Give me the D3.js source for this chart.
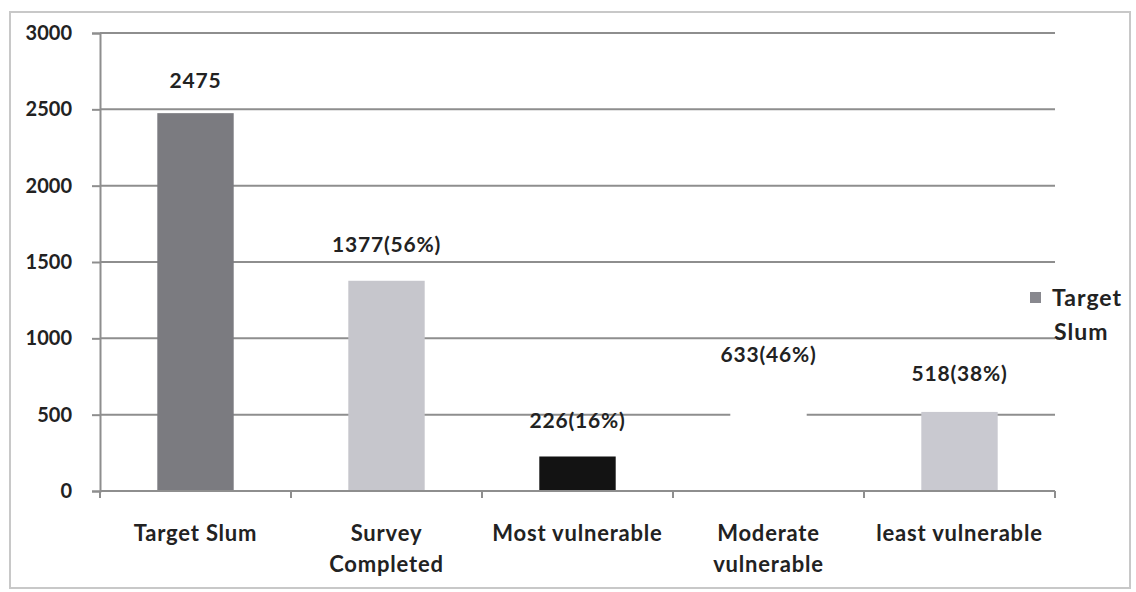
<!DOCTYPE html>
<html>
<head>
<meta charset="utf-8">
<script src="https://cdn.jsdelivr.net/npm/d3@7"></script>
<style>
  html, body { margin: 0; padding: 0; background: #fff; }
  svg text { font-family: Lato, "Open Sans", sans-serif; font-weight: 700; fill: #222; }
</style>
</head>
<body>
<svg id="chart" width="1136" height="592"></svg>
<script>
const categories = [["Target Slum"], ["Survey", "Completed"], ["Most vulnerable"], ["Moderate", "vulnerable"], ["least vulnerable"]];
const values     = [2475, 1377, 226, 633, 518];
const valueLabels = ["2475", "1377(56%)", "226(16%)", "633(46%)", "518(38%)"];
const barColors  = ["#7b7b80", "#c6c6cc", "#131313", "#ffffff", "#c9c9d0"];
const yTicks     = [0, 500, 1000, 1500, 2000, 2500, 3000];
const legendLabel = ["Target", "Slum"];

const svg = d3.select('#chart');

const LEFT = 100, RIGHT = 1055, TOP = 33, BOTTOM = 491;

// outer frame of the scanned chart
svg.append('rect')
    .attr('x', 10).attr('y', 12)
    .attr('width', 1120).attr('height', 576)
    .attr('fill', 'none')
    .attr('stroke', '#c8c8c8')
    .attr('stroke-width', 2);

const x = d3.scaleBand()
    .domain(d3.range(values.length))
    .range([LEFT, RIGHT])
    .paddingInner(0.6)
    .paddingOuter(0.3);

const xOuter = d3.scaleBand()
    .domain(d3.range(values.length))
    .range([LEFT, RIGHT]);

const y = d3.scaleLinear()
    .domain([0, 3000])
    .range([BOTTOM, TOP]);

// gridlines
svg.append('g')
    .selectAll('line')
    .data(yTicks.slice(1))
    .join('line')
    .attr('x1', LEFT).attr('x2', RIGHT)
    .attr('y1', d => y(d)).attr('y2', d => y(d))
    .attr('stroke', '#8e8e8e')
    .attr('stroke-width', 2);

// y axis
const yAxis = svg.append('g')
    .attr('transform', `translate(${LEFT},0)`)
    .call(d3.axisLeft(y).tickValues(yTicks).tickSize(8).tickPadding(20).tickFormat(d3.format('d')));
yAxis.select('.domain').attr('stroke', '#8e8e8e').attr('stroke-width', 2);
yAxis.selectAll('.tick line').attr('stroke', '#8e8e8e').attr('stroke-width', 2);
yAxis.selectAll('.tick text')
    .attr('font-size', 20)
    .style('font-family', 'Lato, sans-serif')
    .style('font-weight', 700)
    .attr('fill', '#222');

// bars
svg.append('g')
    .selectAll('rect')
    .data(values)
    .join('rect')
    .attr('x', (d, i) => x(i))
    .attr('y', d => y(d))
    .attr('width', x.bandwidth())
    .attr('height', d => y(0) - y(d))
    .attr('fill', (d, i) => barColors[i]);

// x axis
svg.append('line')
    .attr('x1', LEFT).attr('x2', RIGHT)
    .attr('y1', y(0)).attr('y2', y(0))
    .attr('stroke', '#8e8e8e')
    .attr('stroke-width', 2);

svg.append('g')
    .selectAll('line')
    .data(d3.range(values.length + 1))
    .join('line')
    .attr('x1', i => LEFT + i * xOuter.step())
    .attr('x2', i => LEFT + i * xOuter.step())
    .attr('y1', y(0)).attr('y2', y(0) + 7)
    .attr('stroke', '#8e8e8e')
    .attr('stroke-width', 2);

// category labels
svg.append('g')
    .selectAll('text')
    .data(categories)
    .join('text')
    .attr('text-anchor', 'middle')
    .attr('font-size', 22)
    .attr('letter-spacing', 0.8)
    .attr('x', (d, i) => xOuter(i) + xOuter.bandwidth() / 2)
    .attr('y', 541)
    .selectAll('tspan')
    .data(d => d)
    .join('tspan')
    .attr('x', function () { return d3.select(this.parentNode).attr('x'); })
    .attr('dy', (d, j) => j === 0 ? 0 : 31)
    .text(d => d);

// value labels
const labelOffset = [25, 29, 28, 32, 31];
svg.append('g')
    .selectAll('text')
    .data(values)
    .join('text')
    .attr('text-anchor', 'middle')
    .attr('font-size', 21)
    .attr('letter-spacing', 0.8)
    .attr('x', (d, i) => x(i) + x.bandwidth() / 2)
    .attr('y', (d, i) => y(d) - labelOffset[i])
    .text((d, i) => valueLabels[i]);

// legend
const legend = svg.append('g').attr('transform', 'translate(1030,292)');
legend.append('rect')
    .attr('width', 11).attr('height', 11)
    .attr('fill', '#88888e');
legend.append('text')
    .attr('x', 22).attr('y', 14)
    .attr('font-size', 23)
    .attr('letter-spacing', 1)
    .selectAll('tspan')
    .data(legendLabel)
    .join('tspan')
    .attr('x', (d, j) => j === 0 ? 22 : 24)
    .attr('dy', (d, j) => j === 0 ? 0 : 34)
    .text(d => d);
</script>
</body>
</html>
